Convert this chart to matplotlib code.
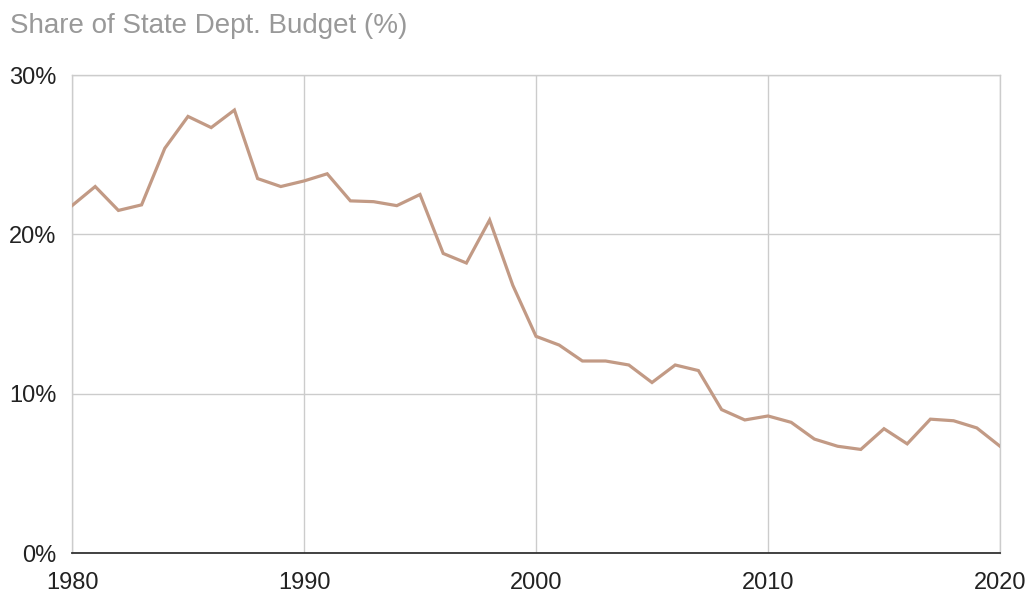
import matplotlib
matplotlib.use("Agg")
import matplotlib.pyplot as plt
from matplotlib.ticker import FuncFormatter

plt.rcParams['font.family'] = ['Liberation Sans', 'DejaVu Sans']

years = list(range(1980, 2021))
share = [21.8, 23.0, 21.5, 21.85, 25.4, 27.4, 26.7, 27.8, 23.5, 23.0,
         23.35, 23.8, 22.1, 22.05, 21.8, 22.5, 18.8, 18.2, 20.9, 16.8,
         13.6, 13.05, 12.05, 12.05, 11.8, 10.7, 11.8, 11.45, 9.0, 8.35,
         8.6, 8.2, 7.15, 6.7, 6.5, 7.8, 6.85, 8.4, 8.3, 7.85,
         6.7]

x_ticks = [1980, 1990, 2000, 2010, 2020]
y_ticks = [0, 10, 20, 30]

fig = plt.figure(figsize=(10.32, 5.95), dpi=100)
ax = fig.add_axes([72/1032, 42/595, 928/1032, 478/595])

ax.plot(years, share, color='#c29a85', linewidth=2.3, solid_joinstyle='miter', zorder=3)

ax.set_xlim(1980, 2020)
ax.set_ylim(0, 30)
ax.set_xticks(x_ticks)
ax.set_yticks(y_ticks)
ax.yaxis.set_major_formatter(FuncFormatter(lambda v, p: f"{int(v)}%"))

# light grid, with the frame edges drawn in the same grey
ax.grid(True, color='#cccccc', linewidth=1.0, zorder=0)
for s in ['left', 'right', 'top']:
    ax.spines[s].set_color('#cccccc')
    ax.spines[s].set_linewidth(1.0)
ax.spines['bottom'].set_color('#333333')
ax.spines['bottom'].set_linewidth(1.3)
ax.spines['bottom'].set_zorder(4)

ax.tick_params(axis='both', length=0, labelsize=17, labelcolor='#222222')
ax.tick_params(axis='y', pad=11)
ax.tick_params(axis='x', pad=14)

fig.text(10/1032, 1 - 33/595, "Share of State Dept. Budget (%)", fontsize=20,
         color='#999999', ha='left', va='baseline')

fig.savefig("out.png", dpi=100)
